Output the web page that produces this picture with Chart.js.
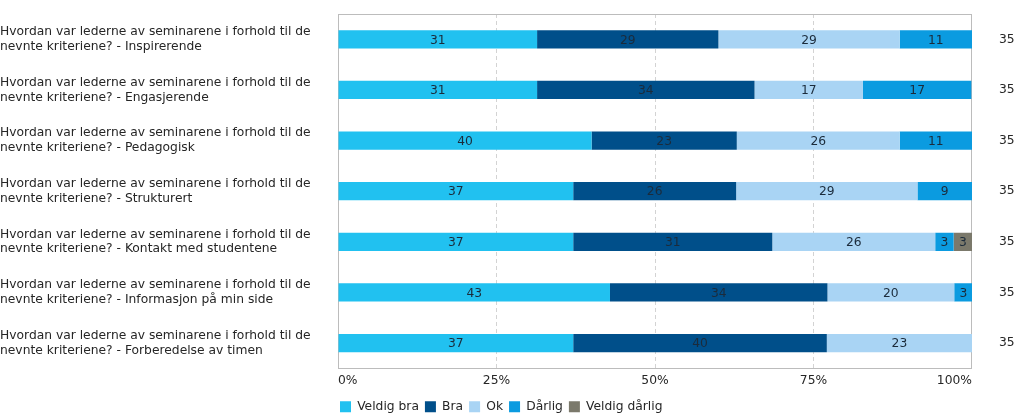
<!DOCTYPE html>
<html><head><meta charset="utf-8">
<script src="https://cdn.jsdelivr.net/npm/chart.js@4.4.0/dist/chart.umd.min.js"></script>
<style>html,body{margin:0;padding:0;background:#fff;}#wrap{width:1023px;height:417px;position:relative;}</style>
</head><body><div id="wrap"><canvas id="c"></canvas></div>
<script>
const categories = [
  ["Hvordan var lederne av seminarene i forhold til de", "nevnte kriteriene? - Inspirerende"],
  ["Hvordan var lederne av seminarene i forhold til de", "nevnte kriteriene? - Engasjerende"],
  ["Hvordan var lederne av seminarene i forhold til de", "nevnte kriteriene? - Pedagogisk"],
  ["Hvordan var lederne av seminarene i forhold til de", "nevnte kriteriene? - Strukturert"],
  ["Hvordan var lederne av seminarene i forhold til de", "nevnte kriteriene? - Kontakt med studentene"],
  ["Hvordan var lederne av seminarene i forhold til de", "nevnte kriteriene? - Informasjon på min side"],
  ["Hvordan var lederne av seminarene i forhold til de", "nevnte kriteriene? - Forberedelse av timen"]
];
const totals = ["35", "35", "35", "35", "35", "35", "35"];
const seriesNames = ["Veldig bra", "Bra", "Ok", "Dårlig", "Veldig dårlig"];
const veldigBra = [31.4, 31.4, 40.0, 37.1, 37.1, 42.9, 37.1];
const bra = [28.6, 34.3, 22.9, 25.7, 31.4, 34.3, 40.0];
const ok = [28.6, 17.1, 25.7, 28.6, 25.7, 20.0, 22.9];
const darlig = [11.4, 17.1, 11.4, 8.6, 2.9, 2.9, 0];
const veldigDarlig = [0, 0, 0, 0, 2.9, 0, 0];
const tickLabels = ["0%", "25%", "50%", "75%", "100%"];

const colors = ["#21c1f0", "#004f8a", "#a9d4f4", "#0b9be0", "#7b796b"];
const FONT = {family: "'DejaVu Sans', Verdana, sans-serif", size: 12.3};
const TEXT = "#262626";

const seriesData = [veldigBra, bra, ok, darlig, veldigDarlig];

const valueLabels = {
  id: 'valueLabels',
  afterDatasetsDraw(chart) {
    const ctx = chart.ctx;
    ctx.save();
    ctx.font = FONT.size + "px " + FONT.family;
    ctx.fillStyle = "#1b2b3b";
    ctx.textAlign = "center";
    ctx.textBaseline = "middle";
    chart.data.datasets.forEach((ds, di) => {
      const meta = chart.getDatasetMeta(di);
      meta.data.forEach((el, i) => {
        const v = ds.data[i];
        if (!v) return;
        ctx.fillText(String(Math.round(v)), (el.x + el.base) / 2, el.y + 1);
      });
    });
    ctx.restore();
  }
};
const plotBorder = {
  id: 'plotBorder',
  beforeDatasetsDraw(chart) {
    const a = chart.chartArea, ctx = chart.ctx;
    ctx.save();
    ctx.strokeStyle = "#bcbcbc";
    ctx.lineWidth = 1;
    ctx.strokeRect(Math.round(a.left) + 0.5, Math.round(a.top) + 0.5, Math.round(a.right - a.left) - 1, Math.round(a.bottom - a.top));
    ctx.restore();
  }
};
const legendShift = {
  id: 'legendShift',
  afterLayout(chart) {
    const l = chart.legend;
    if (l) { l.left -= 4; l.right -= 4; l.top += 6; l.bottom += 6; }
  }
};
const noPad = (s) => { s.paddingTop = 0; s.paddingBottom = 0; };

new Chart(document.getElementById('c'), {
  type: 'bar',
  data: {
    labels: categories,
    datasets: seriesData.map((d, i) => ({
      label: seriesNames[i],
      data: d,
      backgroundColor: colors[i],
      borderWidth: 0,
      barPercentage: 0.36,
      categoryPercentage: 1
    }))
  },
  options: {
    indexAxis: 'y',
    responsive: true,
    maintainAspectRatio: false,
    animation: false,
    layout: {padding: {top: 14, right: 0, left: 0, bottom: 0}},
    scales: {
      x: {
        stacked: true, min: 0, max: 100,
        ticks: {stepSize: 25, align: 'inner', padding: 5, color: TEXT, font: FONT,
          callback: (v, i) => tickLabels[i]},
        grid: {drawTicks: false, color: (c) => (c.tick && (c.tick.value === 0 || c.tick.value === 100)) ? 'rgba(0,0,0,0)' : '#d3d3d3'},
        border: {display: false, dash: [4, 3]},
        afterFit: (s) => { s.paddingLeft = 0; s.paddingRight = 0; s.height = 20.3; }
      },
      y: {
        stacked: true,
        ticks: {crossAlign: 'far', color: TEXT, font: FONT, padding: 0},
        grid: {display: false, drawTicks: false},
        border: {display: false},
        afterFit: (s) => { s.width = 338; noPad(s); }
      },
      y2: {
        type: 'category', labels: totals, position: 'right', offset: true,
        ticks: {color: TEXT, font: FONT, padding: 27},
        grid: {display: false, drawTicks: false},
        border: {display: false},
        afterFit: (s) => { s.width = 51; noPad(s); }
      }
    },
    plugins: {
      legend: {
        position: 'bottom', align: 'start', fullSize: false,
        labels: {boxWidth: 11, boxHeight: 11, color: TEXT, font: FONT, padding: 6}
      },
      tooltip: {enabled: false}
    }
  },
  plugins: [plotBorder, valueLabels, legendShift]
});
</script></body></html>
